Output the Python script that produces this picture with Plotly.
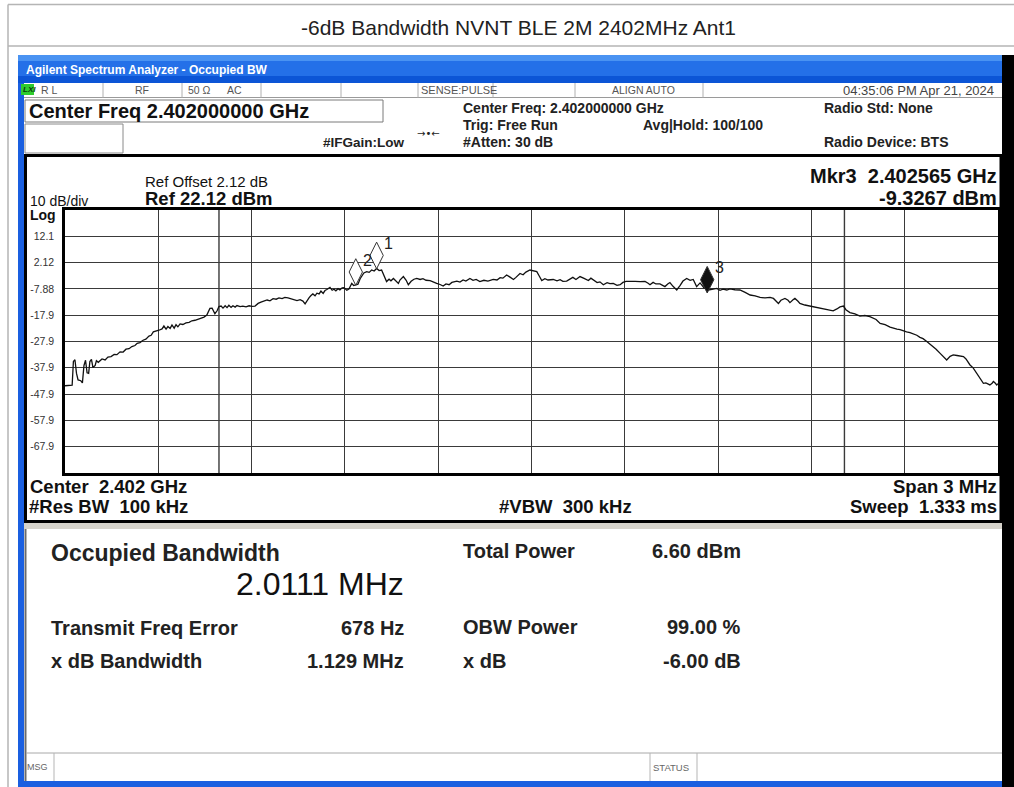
import plotly.graph_objects as go

W, H = 1014, 787

# ---------------- data ----------------
freq_mhz = [
    2400.500, 2400.516, 2400.523, 2400.527, 2400.532, 2400.537, 2400.542, 2400.551, 2400.556, 2400.561,
    2400.566, 2400.571, 2400.576, 2400.580, 2400.585, 2400.590, 2400.597, 2400.601, 2400.607, 2400.619,
    2400.629, 2400.638, 2400.648, 2400.658, 2400.667, 2400.677, 2400.687, 2400.696, 2400.706, 2400.715,
    2400.725, 2400.732, 2400.741, 2400.751, 2400.760, 2400.770, 2400.777, 2400.784, 2400.793, 2400.802,
    2400.812, 2400.818, 2400.825, 2400.831, 2400.838, 2400.844, 2400.851, 2400.857, 2400.863, 2400.870,
    2400.879, 2400.889, 2400.899, 2400.908, 2400.918, 2400.928, 2400.937, 2400.947, 2400.956, 2400.961,
    2400.966, 2400.973, 2400.978, 2400.982, 2400.989, 2400.995, 2401.002, 2401.008, 2401.015, 2401.021,
    2401.027, 2401.034, 2401.040, 2401.047, 2401.053, 2401.063, 2401.072, 2401.082, 2401.092, 2401.101,
    2401.111, 2401.121, 2401.130, 2401.140, 2401.150, 2401.159, 2401.169, 2401.179, 2401.188, 2401.198,
    2401.207, 2401.217, 2401.227, 2401.236, 2401.246, 2401.256, 2401.265, 2401.272, 2401.278, 2401.285,
    2401.291, 2401.297, 2401.304, 2401.310, 2401.317, 2401.323, 2401.330, 2401.336, 2401.342, 2401.352,
    2401.359, 2401.365, 2401.371, 2401.378, 2401.384, 2401.391, 2401.397, 2401.406, 2401.413, 2401.422,
    2401.428, 2401.435, 2401.442, 2401.449, 2401.455, 2401.461, 2401.470, 2401.478, 2401.486, 2401.494,
    2401.502, 2401.510, 2401.518, 2401.526, 2401.534, 2401.542, 2401.548, 2401.556, 2401.564, 2401.572,
    2401.577, 2401.588, 2401.597, 2401.604, 2401.613, 2401.622, 2401.631, 2401.642, 2401.651, 2401.661,
    2401.674, 2401.683, 2401.695, 2401.706, 2401.716, 2401.725, 2401.735, 2401.744, 2401.760, 2401.770,
    2401.780, 2401.789, 2401.802, 2401.812, 2401.822, 2401.834, 2401.847, 2401.860, 2401.877, 2401.889,
    2401.899, 2401.908, 2401.920, 2401.931, 2401.942, 2401.950, 2401.963, 2401.973, 2401.982, 2401.995,
    2402.005, 2402.017, 2402.024, 2402.033, 2402.043, 2402.053, 2402.070, 2402.082, 2402.092, 2402.101,
    2402.113, 2402.124, 2402.133, 2402.143, 2402.156, 2402.169, 2402.183, 2402.191, 2402.201, 2402.211,
    2402.220, 2402.231, 2402.243, 2402.252, 2402.263, 2402.275, 2402.285, 2402.294, 2402.304, 2402.317,
    2402.333, 2402.349, 2402.365, 2402.375, 2402.381, 2402.391, 2402.400, 2402.413, 2402.423, 2402.429,
    2402.439, 2402.445, 2402.455, 2402.467, 2402.478, 2402.487, 2402.499, 2402.510, 2402.520, 2402.531,
    2402.542, 2402.555, 2402.569, 2402.580, 2402.596, 2402.606, 2402.616, 2402.628, 2402.638, 2402.654,
    2402.670, 2402.687, 2402.703, 2402.719, 2402.735, 2402.751, 2402.767, 2402.778, 2402.786, 2402.794,
    2402.802, 2402.815, 2402.825, 2402.831, 2402.841, 2402.847, 2402.857, 2402.863, 2402.879, 2402.896,
    2402.912, 2402.928, 2402.944, 2402.960, 2402.970, 2402.982, 2402.992, 2403.003, 2403.011, 2403.024,
    2403.040, 2403.056, 2403.072, 2403.088, 2403.098, 2403.108, 2403.121, 2403.137, 2403.153, 2403.163,
    2403.175, 2403.185, 2403.195, 2403.206, 2403.217, 2403.227, 2403.239, 2403.249, 2403.259, 2403.271,
    2403.281, 2403.291, 2403.301, 2403.314, 2403.323, 2403.335, 2403.346, 2403.356, 2403.368, 2403.378,
    2403.389, 2403.397, 2403.404, 2403.410, 2403.420, 2403.432, 2403.442, 2403.453, 2403.461, 2403.468,
    2403.474, 2403.481, 2403.485, 2403.490, 2403.496, 2403.500,
]
level_dbm = [
    -44.7, -44.7, -44.5, -35.5, -34.8, -40.0, -42.5, -42.8, -43.6, -37.0,
    -35.0, -39.8, -40.0, -35.5, -34.7, -37.8, -37.0, -35.2, -35.8, -34.5,
    -34.9, -33.8, -33.6, -32.8, -32.9, -31.8, -31.9, -30.8, -30.6, -29.8,
    -29.4, -28.6, -28.3, -27.4, -27.0, -25.8, -25.5, -24.2, -24.0, -23.6,
    -23.1, -22.0, -23.2, -22.2, -22.9, -21.6, -22.8, -21.5, -22.3, -21.2,
    -21.4, -20.8, -20.6, -20.0, -19.8, -19.4, -19.1, -18.6, -17.8, -16.4,
    -15.3, -15.2, -16.5, -17.3, -16.2, -14.6, -14.4, -15.2, -14.3, -15.0,
    -14.1, -14.9, -14.3, -14.8, -14.2, -14.6, -14.4, -14.7, -14.3, -14.5,
    -14.4, -13.4, -12.9, -12.6, -12.1, -12.4, -11.6, -11.8, -11.3, -11.6,
    -11.1, -11.3, -11.7, -11.9, -12.3, -12.0, -12.5, -13.6, -12.4, -11.2,
    -10.4, -9.8, -10.5, -9.5, -9.8, -8.7, -9.6, -8.5, -8.1, -7.3,
    -8.4, -8.0, -8.6, -7.8, -8.3, -7.5, -7.4, -8.4, -7.9, -5.8,
    -6.6, -6.4, -6.1, -4.0, -2.7, -1.8, -1.3, -1.6, -0.7, -1.1,
    -0.1, -0.9, -0.7, -3.0, -5.1, -4.2, -4.8, -3.9, -5.0, -5.8,
    -4.5, -3.2, -4.6, -6.3, -5.0, -4.2, -3.9, -4.3, -4.0, -4.6,
    -4.7, -5.3, -5.8, -6.2, -6.8, -6.0, -6.3, -5.4, -4.9, -5.3,
    -4.5, -4.9, -3.9, -4.6, -4.3, -5.1, -4.6, -4.9, -4.3, -4.5,
    -3.6, -3.8, -2.6, -3.4, -4.3, -3.5, -2.0, -2.5, -1.5, -0.7,
    -0.9, -1.3, -2.8, -4.7, -4.0, -4.5, -4.3, -4.8, -4.4, -5.0,
    -4.9, -4.1, -3.5, -4.3, -3.2, -3.9, -4.7, -3.8, -4.8, -5.5,
    -5.2, -6.3, -5.5, -5.9, -5.8, -6.5, -6.3, -5.4, -5.0, -4.9,
    -5.0, -5.1, -5.0, -5.7, -6.3, -5.4, -6.0, -6.0, -6.8, -7.0,
    -5.9, -5.5, -6.9, -8.3, -6.5, -4.9, -3.9, -4.6, -4.3, -7.0,
    -5.6, -7.5, -8.3, -8.1, -7.7, -8.4, -8.0, -8.3, -7.9, -8.2,
    -8.3, -9.2, -10.2, -10.5, -11.1, -11.3, -11.1, -11.5, -12.4, -13.4,
    -12.2, -11.5, -12.2, -13.1, -12.0, -11.5, -12.6, -13.4, -14.0, -14.4,
    -14.9, -15.3, -15.6, -16.0, -16.2, -15.5, -14.7, -14.4, -15.8, -16.9,
    -17.4, -18.2, -18.0, -18.4, -19.0, -19.5, -21.0, -21.5, -22.4, -22.9,
    -23.2, -23.4, -23.9, -24.2, -24.5, -24.9, -25.5, -26.3, -26.8, -27.9,
    -28.8, -29.8, -30.8, -32.4, -33.6, -34.9, -33.5, -33.0, -33.2, -33.4,
    -33.6, -34.5, -35.7, -36.8, -37.9, -39.9, -41.6, -43.8, -43.6, -44.0,
    -44.4, -43.8, -43.1, -43.6, -44.4, -43.9,
]

marker_ids = ["1", "2", "3"]
marker_freq_mhz = [2401.502, 2401.435, 2402.565]
marker_level_dbm = [-0.1, -6.4, -9.3267]
marker_filled = [False, False, True]

center_mhz = 2402.0
span_mhz = 3.0
ref_level_dbm = 22.12
db_per_div = 10
n_div = 10
obw_mhz = 2.0111
freq_error_hz = 678
ytick_labels = ["12.1", "2.12", "-7.88", "-17.9", "-27.9", "-37.9", "-47.9", "-57.9", "-67.9"]

# ---------------- layout helpers ----------------
FONT = "Liberation Sans, Arial, sans-serif"
PL, PR, PT, PB = 65, 998, 210, 473  # plot-area edges in pixels


def px(x):
    return x / W


def py(y):
    return 1 - y / H


shapes = []
annotations = []


def rect(x0, y0, x1, y1, fill=None, line=None, lw=1):
    shapes.append(dict(type="rect", xref="paper", yref="paper",
                       x0=px(x0), x1=px(x1), y0=py(y1), y1=py(y0),
                       fillcolor=fill or "rgba(0,0,0,0)",
                       line=dict(color=line or "rgba(0,0,0,0)", width=lw if line else 0)))


def hline(x0, x1, y, color, lw=1):
    shapes.append(dict(type="line", xref="paper", yref="paper",
                       x0=px(x0), x1=px(x1), y0=py(y), y1=py(y),
                       line=dict(color=color, width=lw)))


def vline(x, y0, y1, color, lw=1):
    shapes.append(dict(type="line", xref="paper", yref="paper",
                       x0=px(x), x1=px(x), y0=py(y0), y1=py(y1),
                       line=dict(color=color, width=lw)))


def txt(x, y, s, size, bold=False, anchor="left", color="#111", family=FONT):
    annotations.append(dict(xref="paper", yref="paper", x=px(x), y=py(y),
                            text=("<b>%s</b>" % s) if bold else s, showarrow=False,
                            xanchor=anchor, yanchor="middle", borderpad=0,
                            font=dict(size=size, color=color, family=family)))


# page frame and title
hline(8, 1014, 4.5, "#b5b5b5", 1.5)
hline(8, 1014, 46, "#b5b5b5", 1.5)
vline(8, 4.5, 787, "#b5b5b5", 1.5)
txt(518, 27, "-6dB Bandwidth NVNT BLE 2M 2402MHz Ant1", 21, anchor="center", color="#222")

# window chrome
rect(18, 55, 1002, 61, fill="#4a93f2")
rect(18, 61, 1002, 76, fill="#2470e8")
rect(18, 76, 1002, 83, fill="#0c55d6")
rect(18, 83, 24, 787, fill="#1a5fe0")
rect(18, 781, 1002, 787, fill="#1a5fe0")
rect(1002, 55, 1014, 787, fill="#000000")
txt(25, 69.5, "Agilent Spectrum Analyzer - Occupied BW", 12, bold=True, color="#ffffff")

# status row
hline(24, 1002, 97.5, "#9a9a9a", 1)
for sx in [103, 182, 261, 341, 418, 493, 575, 703]:
    vline(sx, 83, 97.5, "#b0b0b0", 1)
rect(21, 84, 34, 95, fill="#2ecc2e")
txt(22, 89.5, "<i>LXI</i>", 8, bold=True, color="#0a3a0a")
txt(40, 90, "R L", 10.5, color="#555")
txt(134, 90, "RF", 10.5, color="#555")
txt(187, 90, "50 Ω", 10.5, color="#555")
txt(226, 90, "AC", 10.5, color="#555")
txt(420, 90, "SENSE:PULSE", 11, color="#555")
txt(643, 90, "ALIGN AUTO", 10.5, anchor="center", color="#555")
txt(995, 90, "04:35:06 PM Apr 21, 2024", 13, anchor="right", color="#444")

# header block
rect(25, 100, 383, 122, line="#7a7a7a", lw=1)
txt(28, 111, "Center Freq 2.402000000 GHz", 20, bold=True, color="#111")
rect(25, 124, 123, 153, line="#8a8a8a", lw=1)
txt(405, 143, "#IFGain:Low", 13.5, bold=True, anchor="right", color="#222")
txt(428, 133, "→•←", 10, anchor="center", color="#222", family="DejaVu Sans")
txt(462, 107.5, "Center Freq: 2.402000000 GHz", 14, bold=True, color="#222")
txt(462, 124.5, "Trig: Free Run", 14, bold=True, color="#222")
txt(462, 141.5, "#Atten: 30 dB", 14, bold=True, color="#222")
txt(642, 124.5, "Avg|Hold: 100/100", 14, bold=True, color="#222")
txt(823, 107.5, "Radio Std: None", 14, bold=True, color="#222")
txt(823, 141.5, "Radio Device: BTS", 14, bold=True, color="#222")

# graph panel
rect(25.5, 155.5, 1001, 521.5, line="#000000", lw=3)
txt(998, 175.5, "Mkr3  2.402565 GHz", 20, bold=True, anchor="right", color="#111")
txt(998, 198, "-9.3267 dBm", 20, bold=True, anchor="right", color="#111")
txt(144, 181, "Ref Offset 2.12 dB", 15, color="#111")
txt(144, 198, "Ref 22.12 dBm", 18.5, bold=True, color="#111")
txt(29, 201, "10 dB/div", 14, color="#111")
txt(29, 215, "Log", 14, bold=True, color="#111")
txt(29, 486, "Center  2.402 GHz", 18.5, bold=True, color="#111")
txt(28, 507, "#Res BW  100 kHz", 18.5, bold=True, color="#111")
txt(498, 507, "#VBW  300 kHz", 18.5, bold=True, color="#111")
txt(998, 486, "Span 3 MHz", 18.5, bold=True, anchor="right", color="#111")
txt(998, 507, "Sweep  1.333 ms", 18.5, bold=True, anchor="right", color="#111")

# results panel
rect(24, 523, 1002, 529, fill="#d6d3cb")
vline(25.5, 529, 781, "#6a6a6a", 2)
txt(50, 553, "Occupied Bandwidth", 23, bold=True, color="#222")
txt(405, 584, "2.0111 MHz", 32, anchor="right", color="#111")
txt(50, 628, "Transmit Freq Error", 20, bold=True, color="#222")
txt(405, 628, "678 Hz", 20, bold=True, anchor="right", color="#222")
txt(50, 661, "x dB Bandwidth", 20, bold=True, color="#222")
txt(405, 661, "1.129 MHz", 20, bold=True, anchor="right", color="#222")
txt(462, 551, "Total Power", 20, bold=True, color="#222")
txt(742, 551, "6.60 dBm", 20, bold=True, anchor="right", color="#222")
txt(462, 627, "OBW Power", 20, bold=True, color="#222")
txt(742, 627, "99.00 %", 20, bold=True, anchor="right", color="#222")
txt(462, 661, "x dB", 20, bold=True, color="#222")
txt(742, 661, "-6.00 dB", 20, bold=True, anchor="right", color="#222")

# bottom status bar
hline(26, 1002, 753, "#a8a8a8", 1)
vline(54, 753, 781, "#b5b5b5", 1)
vline(650, 753, 781, "#b5b5b5", 1)
vline(697, 753, 781, "#b5b5b5", 1)
txt(26, 767, "MSG", 9, color="#666")
txt(652, 767, "STATUS", 9.5, color="#666")

# ---------------- the spectrum plot ----------------
f_start = center_mhz - span_mhz / 2
f_stop = center_mhz + span_mhz / 2
y_bottom = ref_level_dbm - db_per_div * n_div
x_grid = [f_start + span_mhz / n_div * k for k in range(1, n_div)]
y_grid = [ref_level_dbm - db_per_div * k for k in range(1, n_div)]

obw_center = center_mhz + freq_error_hz / 1e6
for fx in (obw_center - obw_mhz / 2, obw_center + obw_mhz / 2):
    shapes.append(dict(type="line", xref="x", yref="y", x0=fx, x1=fx, y0=y_bottom, y1=ref_level_dbm,
                       line=dict(color="#3a3a3a", width=1.4), layer="below"))

fig = go.Figure()
fig.add_trace(go.Scatter(x=freq_mhz, y=level_dbm, mode="lines",
                         line=dict(color="#111111", width=1.3),
                         hoverinfo="skip", showlegend=False))

# diamond markers sit with their lower tip on the marker point
dia_px = 13
db_per_px = (db_per_div * n_div) / (PB - PT)
m_y = [v + dia_px * db_per_px for v in marker_level_dbm]
fig.add_trace(go.Scatter(
    x=marker_freq_mhz, y=m_y, mode="markers",
    marker=dict(symbol="diamond-tall", size=19,
                color=["#111111" if f else "#ffffff" for f in marker_filled],
                line=dict(color="#333333", width=1)),
    hoverinfo="skip", showlegend=False))
for mid, mf, my in zip(marker_ids, marker_freq_mhz, m_y):
    annotations.append(dict(xref="x", yref="y", x=mf, y=my, text=mid, showarrow=False,
                            xshift=12, yshift=12, font=dict(size=16, color="#222", family=FONT)))

fig.update_layout(
    width=W, height=H, margin=dict(l=0, r=0, t=0, b=0),
    paper_bgcolor="#ffffff", plot_bgcolor="#ffffff",
    shapes=shapes, annotations=annotations, showlegend=False,
    xaxis=dict(domain=[px(PL), px(PR)], range=[f_start, f_stop], tickvals=x_grid,
               showticklabels=False, ticks="", showgrid=True, gridcolor="#3a3a3a", gridwidth=1.4,
               zeroline=False, showline=True, mirror=True, linecolor="#000000", linewidth=2.5,
               fixedrange=True),
    yaxis=dict(domain=[py(PB), py(PT)], range=[y_bottom, ref_level_dbm], tickvals=y_grid,
               ticktext=ytick_labels, tickfont=dict(size=10.5, color="#333", family=FONT),
               ticklabelstandoff=6,
               ticks="", showgrid=True, gridcolor="#3a3a3a", gridwidth=1.4,
               zeroline=False, showline=True, mirror=True, linecolor="#000000", linewidth=2.5,
               fixedrange=True),
)

fig.write_html("out.html", config={"displayModeBar": False},
               post_script="document.body.style.margin='0';document.body.style.overflow='hidden';")
